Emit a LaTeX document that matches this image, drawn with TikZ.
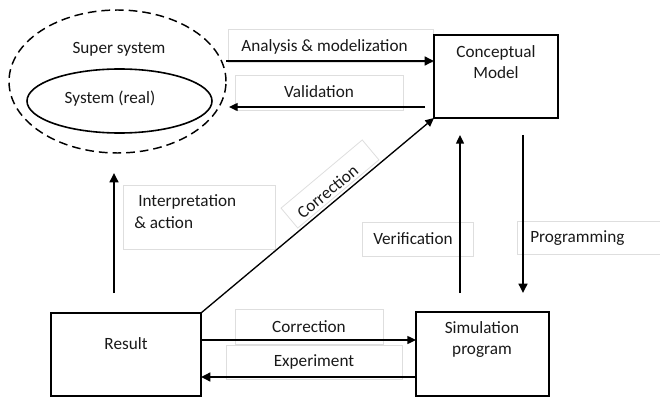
\documentclass[tikz,border=0pt]{standalone}
\usepackage{fontspec}
\setmainfont{Carlito}
\usetikzlibrary{arrows.meta,shapes.geometric}
\begin{document}
\begin{tikzpicture}[x=0.75pt,y=-0.75pt,
  box/.style={draw, line width=1.2pt, inner sep=0pt, outer sep=0pt},
  lblbox/.style={draw=black!13, line width=0.6pt},
  txt/.style={font=\fontsize{12.9}{15.75}\selectfont, inner sep=0pt, text=black!90},
  thinarr/.style={line width=1pt, -{Triangle[length=6.5pt,width=6pt]}},
  thickarr/.style={line width=2.1pt, -{Triangle[length=7pt,width=6.5pt]}}]
\useasboundingbox (0,0) rectangle (660,399);

% faint frames of the arrow captions
\draw[lblbox] (228,29) rectangle (433,62);
\draw[lblbox] (235,75) rectangle (403,110);
\draw[lblbox] (123,185) rectangle (275,249);
\draw[lblbox, rotate around={40:(330,184)}] (277,171) rectangle (383,197);
\draw[lblbox] (362,222) rectangle (473,256);
\draw[lblbox] (664,221) -- (517,221) -- (517,254) -- (664,254);
\draw[lblbox] (235,309) rectangle (383,344);
\draw[lblbox] (226,345) rectangle (402,379);

% system and its surroundings
\node[draw, ellipse, line width=1.1pt, dash pattern=on 6.5pt off 3.75pt,
      minimum width=162.75pt, minimum height=107.25pt, inner sep=0pt, outer sep=0pt] (super) at (117.5,81.5) {};
\node[draw, ellipse, line width=1.2pt, minimum width=138.75pt, minimum height=48pt,
      inner sep=0pt, outer sep=0pt] (sys) at (119.5,101) {};
\node[txt] (supertxt) at (119,49) {Super system};
\node[txt] (systxt) at (110,99) {System (real)};

% main boxes
\node[box, minimum width=93pt, minimum height=62.25pt] (cm) at (496,76.5) {};
\node[box, minimum width=112.5pt, minimum height=62.25pt] (res) at (126,354.5) {};
\node[box, minimum width=99.75pt, minimum height=63pt] (sim) at (482.5,354) {};
\node[txt, align=center] (cmtxt) at (496,62.5) {Conceptual\\Model};
\node[txt] (restxt) at (126,344) {Result};
\node[txt, align=center] (simtxt) at (482,339.5) {Simulation\\program};

% captions
\node[txt] (l1) at (324.5,47) {Analysis \& modelization};
\node[txt] (l2) at (319,92) {Validation};
\node[txt, anchor=west] (l3) at (138,202) {Interpretation};
\node[txt, anchor=west] (l4) at (134,223) {\& action};
\node[txt, rotate=40] (l5) at (327.5,191.5) {Correction};
\node[txt, anchor=west] (l6) at (373,239) {Verification};
\node[txt, anchor=west] (l7) at (530,238) {Programming};
\node[txt] (l8) at (309,327) {Correction};
\node[txt] (l9) at (314,362) {Experiment};

% connectors
\draw[thickarr] (super.east |- 0,61) -- (cm.west |- 0,61);
\draw[thinarr, shorten <=6.75pt, shorten >=2.25pt] (cm.west |- 0,107) -- (super.east |- 0,107);
\draw[thickarr, shorten <=15pt, shorten >=15pt] (res.north -| 114,0) -- (super.south -| 114,0);
\draw[thinarr] (res.north east) -- (cm.south west);
\draw[thinarr, shorten <=14.25pt, shorten >=12.75pt] (sim.north -| 460,0) -- (cm.south -| 460,0);
\draw[thickarr, shorten <=12.75pt, shorten >=14.25pt] (cm.south -| 523,0) -- (sim.north -| 523,0);
\draw[thinarr] (res.east |- 0,340) -- (sim.west |- 0,340);
\draw[thickarr] (sim.west |- 0,377) -- (res.east |- 0,377);
\end{tikzpicture}
\end{document}
